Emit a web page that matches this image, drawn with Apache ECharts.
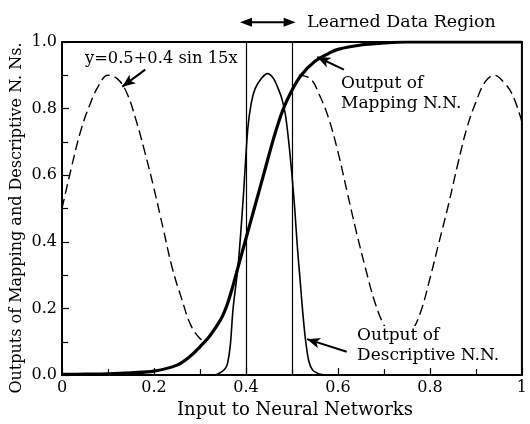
<!DOCTYPE html>
<html>
<head>
<meta charset="utf-8">
<script src="https://cdn.jsdelivr.net/npm/echarts@6/dist/echarts.min.js"></script>
<style>
html,body{margin:0;padding:0;background:#fff;}
#chart{width:530px;height:424px;}
</style>
</head>
<body>
<div id="chart"></div>
<script>
// ---- data ----
const xTickLabels = ['0', '0.2', '0.4', '0.6', '0.8', '1'];
const yTickLabels = ['0.0', '0.2', '0.4', '0.6', '0.8', '1.0'];

// Output of Mapping N.N. (thick sigmoid)
const mappingX = [0, 0.05, 0.1, 0.15, 0.2, 0.25, 0.28, 0.3, 0.32, 0.34, 0.35, 0.36, 0.37, 0.38, 0.4, 0.42, 0.44, 0.46, 0.48, 0.5, 0.52, 0.55, 0.58, 0.6, 0.65, 0.7, 0.75, 0.8, 0.9, 1.0];
const mappingY = [0.002, 0.003, 0.004, 0.007, 0.012, 0.03, 0.058, 0.085, 0.115, 0.155, 0.18, 0.215, 0.26, 0.31, 0.41, 0.51, 0.61, 0.71, 0.795, 0.855, 0.9, 0.942, 0.966, 0.978, 0.991, 0.997, 1.0, 1.0, 1.0, 1.0];

// Output of Descriptive N.N. (thin bump)
const descX = [0, 0.33, 0.345, 0.355, 0.36, 0.366, 0.372, 0.383, 0.394, 0.404, 0.412, 0.42, 0.433, 0.447, 0.46, 0.47, 0.478, 0.486, 0.493, 0.5, 0.506, 0.512, 0.518, 0.524, 0.53, 0.537, 0.545, 0.555, 0.565, 0.58, 1.0];
const descY = [0, 0, 0.008, 0.02, 0.035, 0.09, 0.2, 0.33, 0.53, 0.74, 0.82, 0.86, 0.89, 0.905, 0.89, 0.86, 0.83, 0.78, 0.7, 0.6, 0.5, 0.38, 0.28, 0.18, 0.1, 0.04, 0.015, 0.006, 0.002, 0, 0];

// y = 0.5 + 0.4 sin 15x (dashed), visible outside the learned region
const waveLeftX = [0, 0.02, 0.04, 0.06, 0.08, 0.10, 0.12, 0.14, 0.16, 0.18, 0.20, 0.22, 0.24, 0.26, 0.28, 0.30, 0.315];
const waveLeftY = [0.50, 0.62, 0.73, 0.81, 0.87, 0.90, 0.89, 0.85, 0.77, 0.67, 0.56, 0.44, 0.32, 0.23, 0.15, 0.11, 0.10];
const waveRightX = [0.515, 0.54, 0.56, 0.58, 0.60, 0.62, 0.64, 0.66, 0.68, 0.70, 0.72, 0.74, 0.76, 0.78, 0.80, 0.82, 0.84, 0.86, 0.88, 0.90, 0.92, 0.94, 0.96, 0.98, 1.00];
const waveRightY = [0.90, 0.89, 0.84, 0.77, 0.67, 0.55, 0.43, 0.32, 0.22, 0.15, 0.11, 0.10, 0.13, 0.19, 0.29, 0.40, 0.51, 0.63, 0.74, 0.82, 0.88, 0.90, 0.88, 0.84, 0.76];

// learned data region and its double arrow (in data units)
const regionBounds = [0.4, 0.5];
const regionArrow = [[0.387, 1.059], [0.508, 1.059]];

const pairs = (xs, ys) => xs.map((x, i) => [x, ys[i]]);

const FONT = '"DejaVu Serif", "Liberation Serif", serif';
const chart = echarts.init(document.getElementById('chart'), null, {renderer: 'canvas'});

const option = {
  backgroundColor: '#fff',
  animation: false,
  grid: {left: 62, right: 3, top: 42, bottom: 45.5, show: true, borderColor: '#000', borderWidth: 2, backgroundColor: 'transparent'},
  xAxis: {
    type: 'value', min: 0, max: 1, interval: 0.2,
    name: 'Input to Neural Networks', nameLocation: 'middle', nameGap: 25,
    nameTextStyle: {fontFamily: FONT, fontSize: 18, color: '#000', padding: [0, 0, 0, 6]},
    axisLine: {show: true, lineStyle: {color: '#000', width: 2}},
    axisTick: {show: true, inside: true, length: 7, lineStyle: {color: '#000', width: 1.2}},
    minorTick: {show: true, splitNumber: 2, length: 6, lineStyle: {color: '#000', width: 1.2}},
    splitLine: {show: false},
    axisLabel: {
      fontFamily: FONT, fontSize: 16, color: '#000', margin: 5,
      formatter: v => xTickLabels[Math.round(v / 0.2)]
    }
  },
  yAxis: {
    type: 'value', min: 0, max: 1, interval: 0.2,
    axisLine: {show: true, lineStyle: {color: '#000', width: 2}},
    axisTick: {show: true, inside: true, length: 7, lineStyle: {color: '#000', width: 1.2}},
    minorTick: {show: true, splitNumber: 2, length: 6, lineStyle: {color: '#000', width: 1.2}},
    splitLine: {show: false},
    axisLabel: {
      fontFamily: FONT, fontSize: 16, color: '#000', margin: 5,
      formatter: v => yTickLabels[Math.round(v / 0.2)]
    }
  },
  series: [
    {
      name: 'wave-left', type: 'line', data: pairs(waveLeftX, waveLeftY),
      smooth: 0.4, showSymbol: false, silent: true,
      lineStyle: {color: '#000', width: 1.4, type: [10, 5]}
    },
    {
      name: 'wave-right', type: 'line', data: pairs(waveRightX, waveRightY),
      smooth: 0.4, showSymbol: false, silent: true,
      lineStyle: {color: '#000', width: 1.4, type: [10, 5]}
    },
    {
      name: 'Descriptive', type: 'line', data: pairs(descX, descY),
      smooth: 0.3, showSymbol: false, silent: true,
      lineStyle: {color: '#000', width: 1.6}
    },
    {
      name: 'Mapping', type: 'line', data: pairs(mappingX, mappingY),
      smooth: 0.35, showSymbol: false, silent: true,
      lineStyle: {color: '#000', width: 3.2},
      markLine: {
        silent: true, animation: false,
        symbol: ['none', 'none'],
        label: {show: false},
        lineStyle: {color: '#000', width: 1.2, type: 'solid'},
        data: [
          {xAxis: regionBounds[0]},
          {xAxis: regionBounds[1]},
          [ {coord: [0.181, 0.917], symbol: 'none', lineStyle: {width: 2}}, {coord: [0.131, 0.866], symbol: 'arrow', symbolSize: [8, 13]} ],
          [ {coord: [0.613, 0.917], symbol: 'none', lineStyle: {width: 2}}, {coord: [0.555, 0.955], symbol: 'arrow', symbolSize: [8, 13]} ],
          [ {coord: [0.619, 0.070], symbol: 'none', lineStyle: {width: 2}}, {coord: [0.533, 0.108], symbol: 'arrow', symbolSize: [8, 13]} ]
        ]
      }
    }
  ]
};
chart.setOption(option);

// double arrow above the plot (outside the axis range, so drawn as graphic from data coords)
const p0 = chart.convertToPixel({gridIndex: 0}, regionArrow[0]);
const p1 = chart.convertToPixel({gridIndex: 0}, regionArrow[1]);
const ah = 12, aw = 4.5;
chart.setOption({
  graphic: [
    {type: 'line', z: 100, shape: {x1: p0[0] + ah - 2, y1: p0[1], x2: p1[0] - ah + 2, y2: p1[1]}, style: {stroke: '#000', lineWidth: 2}},
    {type: 'polygon', z: 100, shape: {points: [[p0[0], p0[1]], [p0[0] + ah, p0[1] - aw], [p0[0] + ah, p0[1] + aw]]}, style: {fill: '#000'}},
    {type: 'polygon', z: 100, shape: {points: [[p1[0], p1[1]], [p1[0] - ah, p1[1] - aw], [p1[0] - ah, p1[1] + aw]]}, style: {fill: '#000'}},
    {type: 'text', left: 307, top: 13, z: 100, style: {text: 'Learned Data Region', font: '17.5px ' + FONT, fill: '#000'}},
    {type: 'text', x: 17, y: 218, rotation: Math.PI / 2, z: 100, style: {text: 'Outputs of Mapping and Descriptive N. Ns.', font: '16px ' + FONT, fill: '#000', align: 'center', verticalAlign: 'middle'}},
    {type: 'text', left: 85, top: 51, z: 100, style: {text: 'y=0.5+0.4 sin 15x', font: '16.3px ' + FONT, fill: '#000', backgroundColor: '#fff'}},
    {type: 'text', left: 341, top: 74, z: 100, style: {text: 'Output of\nMapping N.N.', font: '17px ' + FONT, fill: '#000', lineHeight: 20, backgroundColor: '#fff'}},
    {type: 'text', left: 355, top: 326, z: 100, style: {text: 'Output of\nDescriptive N.N.', font: '17px ' + FONT, fill: '#000', lineHeight: 20, backgroundColor: '#fff', padding: [0, 2, 0, 2]}}
  ]
});
</script>
</body>
</html>
